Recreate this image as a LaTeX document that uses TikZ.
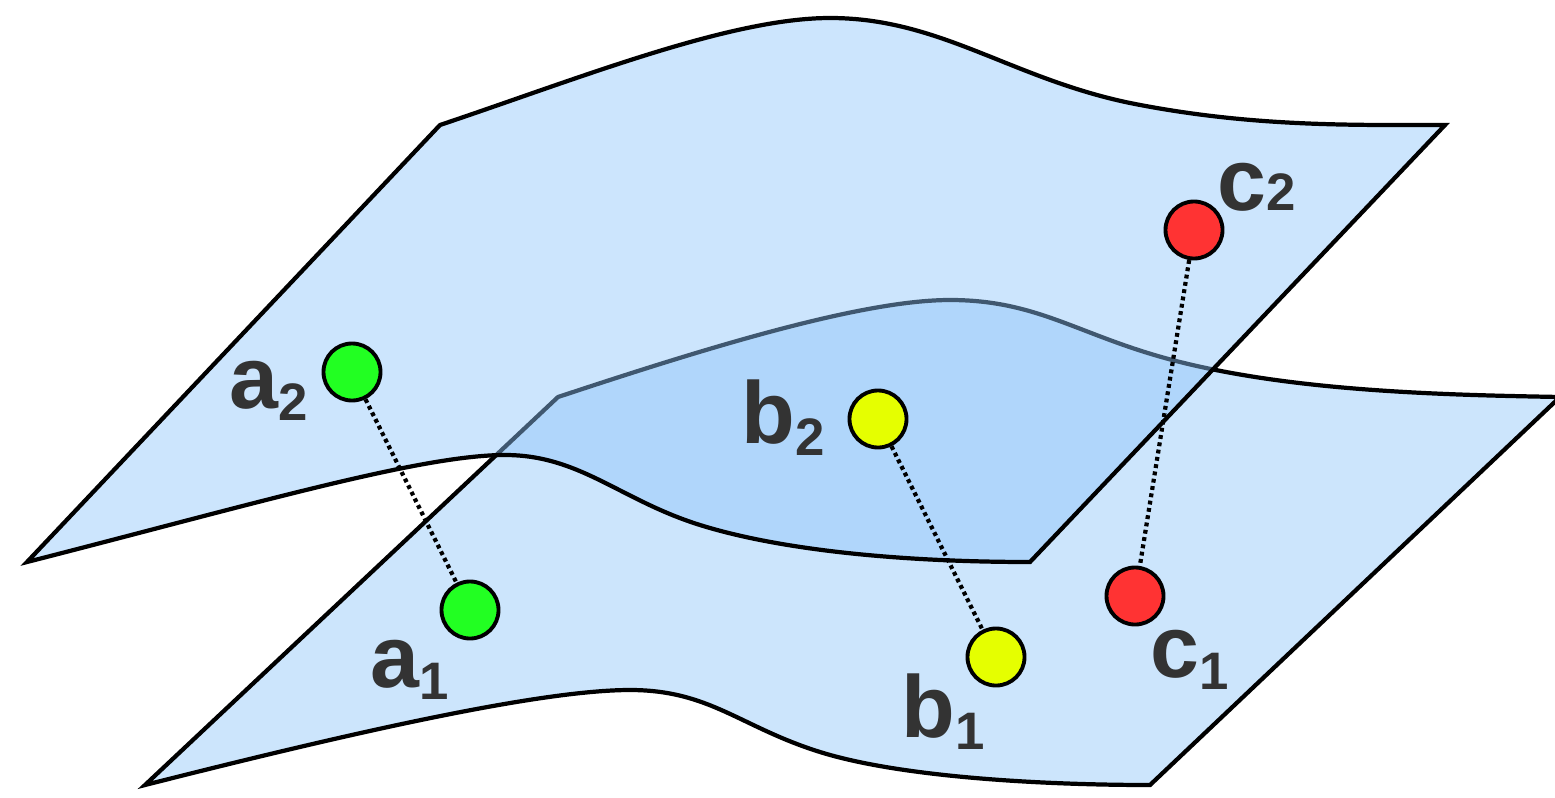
\documentclass[tikz,border=0pt]{standalone}
\usepackage{fontspec}
\setmainfont{Liberation Sans}

\definecolor{sheetfill}{RGB}{204,229,252}
\definecolor{topfill}{RGB}{142,197,250}
\definecolor{dotgreen}{RGB}{34,255,34}
\definecolor{dotyellow}{RGB}{229,255,0}
\definecolor{dotred}{RGB}{255,51,51}
\definecolor{labgray}{RGB}{51,51,51}

% letter with a dropped index
\newcommand{\ptlab}[3][3.5pt]{\fontsize{25}{25}\selectfont\bfseries #2\raisebox{-#1}{\fontsize{15}{15}\selectfont #3}}

\begin{document}
\begin{tikzpicture}[x=0.01cm,y=-0.01cm,
  sheet/.style={draw=black,line width=1.2pt,line join=miter},
  pt/.style={draw,circle,line width=1.1pt,minimum size=0.57cm,inner sep=0pt},
  lab/.style={anchor=base west,inner sep=0pt,text=labgray},
  link/.style={line width=1.2pt,dash pattern=on 1.1pt off 1pt}]
\useasboundingbox (0,0) rectangle (1555,797);

%%% lower sheet %%%
\path[sheet,fill=sheetfill]
   (558,397) .. controls (700,350) and (860,300) .. (950,300)
   .. controls (1040,300) and (1080,337) .. (1180,362)
   .. controls (1300,392) and (1450,395) .. (1560,397)
   -- (1150,785)
   .. controls (1040,785) and (900,777) .. (820,752)
   .. controls (740,727) and (710,690) .. (630,690)
   .. controls (540,690) and (350,733) .. (145,785) -- cycle;

%%% upper sheet (seen through) %%%
\path[sheet,fill=topfill,fill opacity=0.45]
   (440,125) .. controls (580,78) and (730,18) .. (830,18)
   .. controls (940,18) and (1010,78) .. (1130,103)
   .. controls (1250,127) and (1350,125) .. (1445,125)
   -- (1030,562)
   .. controls (900,562) and (780,550) .. (700,525)
   .. controls (620,500) and (580,455) .. (505,455)
   .. controls (420,455) and (250,505) .. (27,562) -- cycle;

  \node (a2) at (352,372) [pt,fill=dotgreen] {};
  \node (a1) at (470,610) [pt,fill=dotgreen] {};
  \node (b2) at (878,419) [pt,fill=dotyellow] {};
  \node (b1) at (996,657) [pt,fill=dotyellow] {};
  \node (c2) at (1194,230) [pt,fill=dotred] {};
  \node (c1) at (1135,596) [pt,fill=dotred] {};

\draw[link] (a2) -- (a1)
   (b2) -- (b1)
   (c2) -- (c1);

  \node (la2) at (229,408) [lab] {\ptlab{a}{2}};
  \node (la1) at (370,687) [lab] {\ptlab{a}{1}};
  \node (lb2) at (741,443) [lab] {\ptlab{b}{2}};
  \node (lb1) at (901,737) [lab] {\ptlab{b}{1}};
  \node (lc2) at (1217,210) [lab] {\ptlab[0pt]{c}{2}};
  \node (lc1) at (1150,677) [lab] {\ptlab{c}{1}};
\end{tikzpicture}
\end{document}
